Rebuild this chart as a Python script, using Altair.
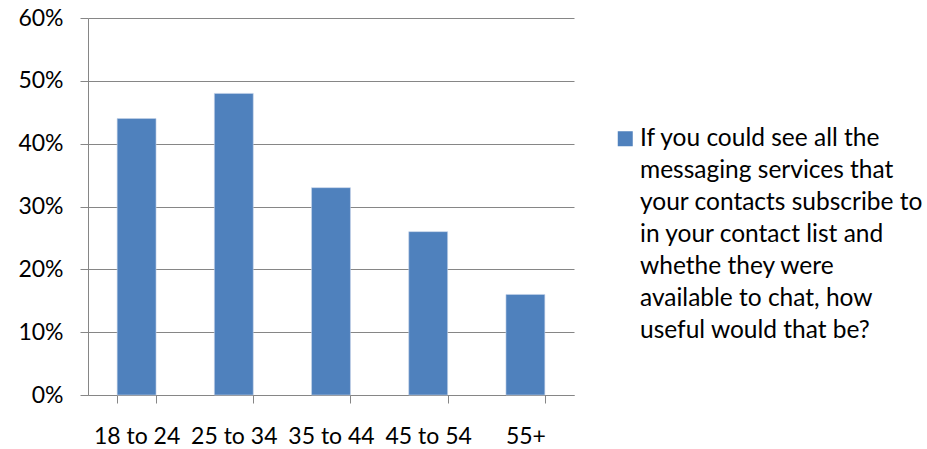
import altair as alt
import pandas as pd

# Share of respondents in each age group finding the feature useful
age_groups = ["18 to 24", "25 to 34", "35 to 44", "45 to 54", "55+"]
shares = [0.44, 0.48, 0.33, 0.26, 0.16]
series_lines = [
    "If you could see all the",
    "messaging services that",
    "your contacts subscribe to",
    "in your contact list and",
    "whethe they were",
    "available to chat, how",
    "useful would that be?",
]
series_name = "|".join(series_lines)

df = pd.DataFrame({"age": age_groups, "share": shares, "series": series_name})

FONT = "Lato"
GRID = "#868686"

chart = (
    alt.Chart(df)
    .mark_bar(color="#4F81BD", stroke="#C6D4EA", strokeWidth=0.6)
    .encode(
        x=alt.X(
            "age:N",
            sort=age_groups,
            scale=alt.Scale(paddingInner=0.6, paddingOuter=0.3),
            axis=alt.Axis(
                title=None,
                labelAngle=0,
                tickBand="extent",
                tickSize=8,
                tickColor=GRID,
                domainColor=GRID,
                labelPadding=22,
                labelFontSize=23,
                labelFont=FONT,
                labelColor="#000000",
                grid=False,
            ),
        ),
        y=alt.Y(
            "share:Q",
            scale=alt.Scale(domain=[0, 0.6]),
            axis=alt.Axis(
                title=None,
                format=".0%",
                values=[0, 0.1, 0.2, 0.3, 0.4, 0.5, 0.6],
                tickSize=8,
                tickColor=GRID,
                domainColor=GRID,
                gridColor=GRID,
                labelPadding=17,
                labelFontSize=23,
                labelFont=FONT,
                labelColor="#000000",
            ),
        ),
        color=alt.Color(
            "series:N",
            scale=alt.Scale(range=["#4F81BD"]),
            legend=alt.Legend(
                title=None,
                orient="none",
                legendX=525,
                legendY=108.5,
                symbolType="square",
                symbolSize=225,
                symbolStrokeWidth=0,
                symbolOpacity=1,
                labelExpr="split(datum.label, '|')",
                labelFont=FONT,
                labelFontSize=24.5,
                labelColor="#000000",
                labelLimit=500,
                labelBaseline="middle",
                labelOffset=2.5,
                padding=0,
            ),
        ),
    )
    .properties(
        width=486,
        height=377,
        autosize=alt.AutoSizeParams(type="none"),
        padding={"left": 88, "top": 18, "right": 353, "bottom": 54},
    )
    .configure(
        style={"guide-label": {"lineHeight": 32}},
        view=alt.ViewConfig(stroke=None),
        axis=alt.AxisConfig(gridWidth=1, domainWidth=1, tickWidth=1),
    )
)

chart.save("out.html", embed_options={"renderer": "svg", "actions": False})
